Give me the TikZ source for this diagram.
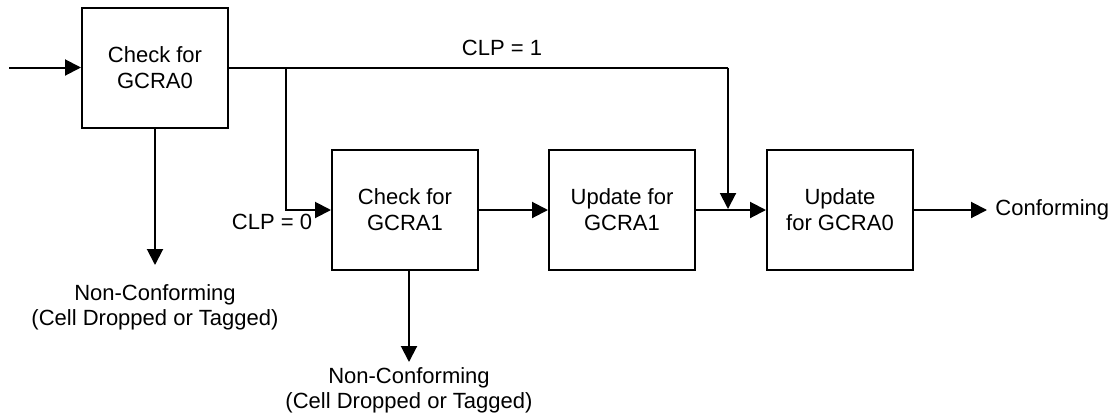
\documentclass[tikz,border=0pt]{standalone}
\usepackage{fontspec}
\setmainfont{Liberation Sans}
\usetikzlibrary{arrows.meta}
\begin{document}
\begin{tikzpicture}[x=0.5pt,y=-0.5pt,
  box/.style={draw,line width=1pt,minimum width=73pt,minimum height=60pt,inner sep=0pt,align=center,font=\fontsize{11}{13}\selectfont},
  lbl/.style={inner sep=0pt,align=center,font=\fontsize{11}{12.5}\selectfont},
  conn/.style={line width=1pt},
  arr/.style={conn,-{Triangle[length=8pt,width=8pt]}}]
\useasboundingbox (0,0) rectangle (1117,412);
\node[box] (b1) at (155,67.5) {Check for\\GCRA0};
\node[box] (b2) at (405,210) {Check for\\GCRA1};
\node[box] (b3) at (622,210) {Update for\\GCRA1};
\node[box] (b4) at (840,210) {Update\\for GCRA0};
\coordinate (in) at (9,67.5);
\coordinate (j1) at (286,67.5);
\coordinate (top) at (728,67.5);
\coordinate (m) at (728,209);
\coordinate (out) at (987,210);
\coordinate (d1) at (155,265);
\coordinate (d2) at (409,362);
\node[lbl] (clp1) at (502,48) {CLP = 1};
\node[lbl] (clp0) at (272,222) {CLP = 0};
\node[lbl,anchor=west] (conf) at (995,210) {Conforming};
\node[lbl] (nc1) at (155,307) {Non-Conforming\\(Cell Dropped or Tagged)};
\node[lbl] (nc2) at (409,390) {Non-Conforming\\(Cell Dropped or Tagged)};
\draw[arr] (in) -- (b1.west);
\draw[conn] (b1.east) -- (top);
\draw[arr] (top) -- (m);
\draw[arr] (j1) |- (b2.west);
\draw[arr] (b2.east) -- (b3.west);
\draw[arr] (b3.east) -- (b4.west);
\draw[arr] (b4.east) -- (out);
\draw[arr] (b1.south) -- (d1);
\draw[arr] (b2.south -| d2) -- (d2);
\end{tikzpicture}
\end{document}
